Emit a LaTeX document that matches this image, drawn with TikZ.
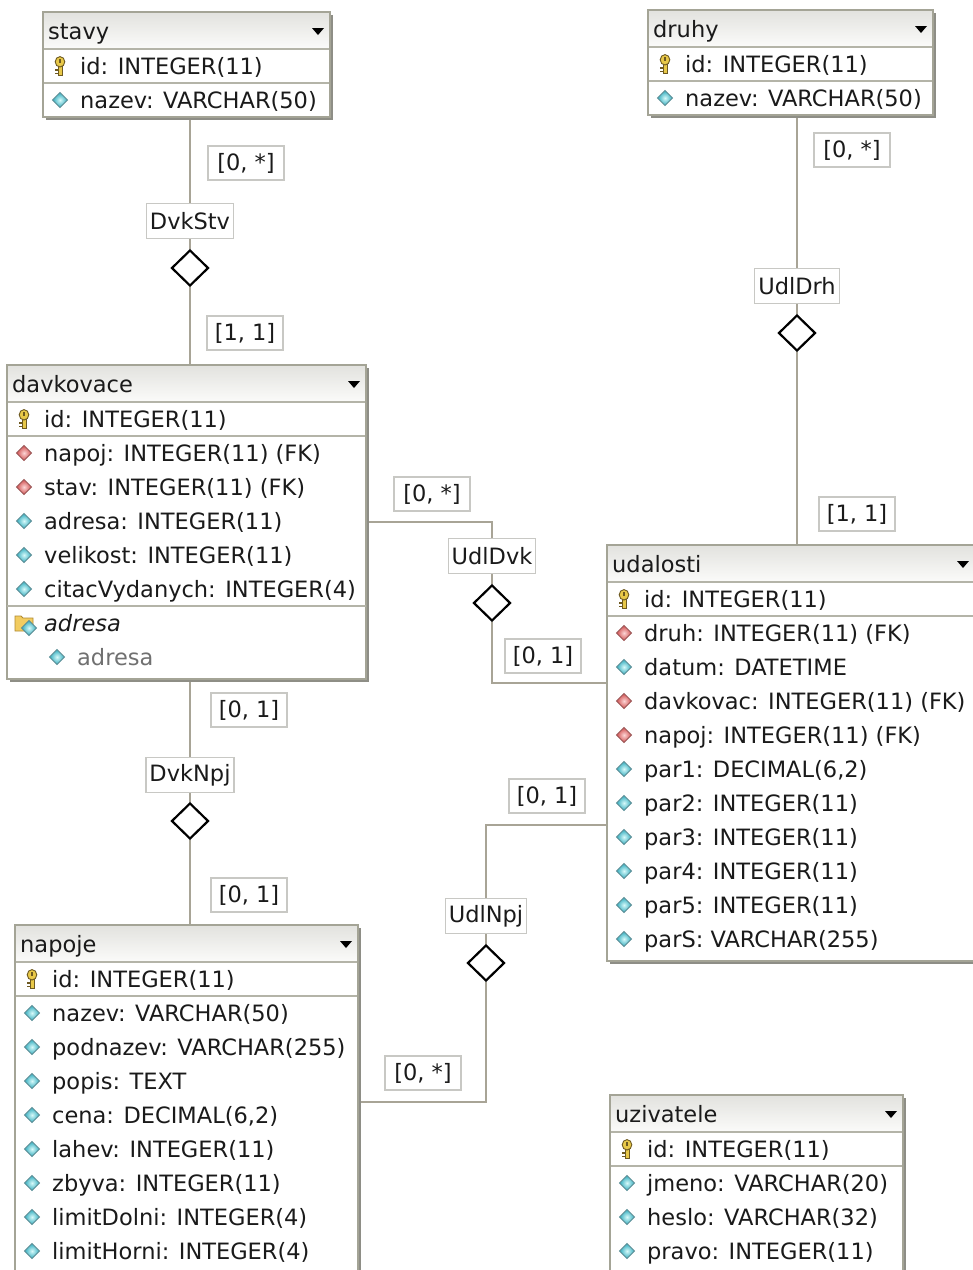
\documentclass[tikz,border=0pt]{standalone}
\usepackage{fontspec}
\setmainfont{DejaVu Sans}
\usetikzlibrary{shapes.geometric,calc}

\definecolor{framec}{HTML}{A4A496}
\definecolor{shadowc}{HTML}{8E8E86}
\definecolor{sepc}{HTML}{B4B4A8}
\definecolor{hdrtop}{HTML}{E2E2DE}
\definecolor{hdrbot}{HTML}{FBFBFA}
\definecolor{txtc}{HTML}{1A1A1A}
\definecolor{subc}{HTML}{707070}
\definecolor{connc}{HTML}{A8A496}
\definecolor{labc}{HTML}{C8C8C4}
\definecolor{keybody}{HTML}{E8C848}
\definecolor{keyol}{HTML}{6E5A22}
\definecolor{attin}{HTML}{D8FAFA}
\definecolor{attout}{HTML}{2EAABC}
\definecolor{attol}{HTML}{5E8E96}
\definecolor{fkin}{HTML}{FCD6D6}
\definecolor{fkout}{HTML}{D04C4C}
\definecolor{fkol}{HTML}{9A5858}
\definecolor{foldc}{HTML}{F2CC60}
\definecolor{foldol}{HTML}{B08A30}

\pgfdeclarelayer{back}
\pgfsetlayers{back,main}

\tikzset{
  every node/.style={font=\fontsize{22.5}{27}\selectfont, text=txtc},
  erframe/.style={rectangle, fill=white, inner sep=0, outer sep=0},
  sepline/.style={draw=sepc, line width=1.2},
  rowtxt/.style={anchor=base west, inner sep=0},
  subtxt/.style={rowtxt, text=subc},
  conn/.style={draw=connc, line width=1.8},
  card/.style={draw=labc, line width=1.3, fill=white, inner sep=0,
    minimum width=76, minimum height=34},
  relname/.style={draw=labc, line width=1.3, fill=white, inner xsep=3.5,
    inner ysep=0, minimum height=35},
  reldia/.style={diamond, draw=black, line width=2.2, fill=white,
    minimum width=37, minimum height=36, inner sep=0},
}

% small diamond glyph of a column: x, y, inner, outer, outline
\newcommand\erDia[5]{%
  \shade[inner color=#3, outer color=#4]
    (#1,#2-7.5) -- (#1+7.5,#2) -- (#1,#2+7.5) -- (#1-7.5,#2) -- cycle;
  \draw[#5, line width=0.8]
    (#1,#2-7.5) -- (#1+7.5,#2) -- (#1,#2+7.5) -- (#1-7.5,#2) -- cycle;}
\newcommand\erIconattr[2]{\erDia{#1}{#2}{attin}{attout}{attol}}
\newcommand\erIconfk[2]{\erDia{#1}{#2}{fkin}{fkout}{fkol}}
% primary key glyph
\newcommand\erIconkey[2]{%
  \begin{scope}[shift={(#1,#2)}]
    \filldraw[fill=keybody, draw=keyol, line width=0.9]
      (-2,0) rectangle (2,9.5);
    \fill[keyol] (-4.6,3.2) rectangle (-2,5);
    \fill[keyol] (-4.6,6.6) rectangle (-2,8.4);
    \filldraw[fill=keybody, draw=keyol, line width=0.9]
      (0,-4.2) ellipse [x radius=4.8pt, y radius=5.2pt];
    \fill[keyol] (-0.8,-7.4) rectangle (0.8,-2.6);
  \end{scope}}
% index folder glyph
\newcommand\erIconfolder[2]{%
  \begin{scope}[shift={(#1,#2)}]
    \filldraw[fill=foldc, draw=foldol, line width=0.8]
      (-9,-7) -- (-3,-7) -- (-1,-5) -- (9,-5) -- (9,8) -- (-9,8) -- cycle;
    \erDia{5}{5}{attin}{attout}{attol}
  \end{scope}}

% table: name, left, top, right, bottom, title
\newcommand\erEntity[6]{%
  \fill[shadowc] (#2+3,#3+3) rectangle (#4+3,#5+3);
  \node[erframe, anchor=north west, minimum width={#4-#2},
    minimum height={#5-#3}] (#1) at (#2,#3) {};
  \shade[top color=hdrtop, bottom color=hdrbot] (#2,#3) rectangle (#4,#3+37);
  \draw[sepline] (#2,#3+37) -- (#4,#3+37);
  \draw[sepline] (#2,#3+71) -- (#4,#3+71);
  \draw[draw=framec, line width=1.4] (#1.north west) rectangle (#1.south east);
  \node[rowtxt] (#1-title) at (#2+5,#3+27) {#6};
  \fill[black] (#4-18,#3+16) -- (#4-6,#3+16) -- (#4-12,#3+23) -- cycle;}

% column row: name, glyph, table left, row centre, text
\newcommand\erRow[5]{%
  \csname erIcon#2\endcsname{#3+17}{#4}%
  \node[rowtxt] (#1) at (#3+37,#4+8) {#5};}

\begin{document}
\begin{tikzpicture}[x=1pt,y=-1pt]
\useasboundingbox (0,0) rectangle (973,1270);
\begin{pgfonlayer}{back}
  \fill[white] (0,0) rectangle (973,1270);
\end{pgfonlayer}

% ---------- tables ----------
\erEntity{stavy}{43}{12}{330}{117}{stavy}
\erRow{stavy-id}{key}{43}{66}{id: INTEGER(11)}
\erRow{stavy-nazev}{attr}{43}{100}{nazev: VARCHAR(50)}

\erEntity{druhy}{648}{10}{933}{115}{druhy}
\erRow{druhy-id}{key}{648}{64}{id: INTEGER(11)}
\erRow{druhy-nazev}{attr}{648}{98}{nazev: VARCHAR(50)}

\erEntity{davkovace}{7}{365}{366}{679}{davkovace}
\erRow{dv-id}{key}{7}{419}{id: INTEGER(11)}
\erRow{dv-napoj}{fk}{7}{453}{napoj: INTEGER(11) (FK)}
\erRow{dv-stav}{fk}{7}{487}{stav: INTEGER(11) (FK)}
\erRow{dv-adresa}{attr}{7}{521}{adresa: INTEGER(11)}
\erRow{dv-velikost}{attr}{7}{555}{velikost: INTEGER(11)}
\erRow{dv-citac}{attr}{7}{589}{citacVydanych: INTEGER(4)}
\draw[sepline] (7,606) -- (366,606);
\erIconfolder{24}{623}
\node[rowtxt] (dv-index) at (44,631) {\itshape adresa};
\erIconattr{57}{657}
\node[subtxt] (dv-index-col) at (77,665) {adresa};

\erEntity{udalosti}{607}{545}{975}{961}{udalosti}
\erRow{ud-id}{key}{607}{599}{id: INTEGER(11)}
\erRow{ud-druh}{fk}{607}{633}{druh: INTEGER(11) (FK)}
\erRow{ud-datum}{attr}{607}{667}{datum: DATETIME}
\erRow{ud-davkovac}{fk}{607}{701}{davkovac: INTEGER(11) (FK)}
\erRow{ud-napoj}{fk}{607}{735}{napoj: INTEGER(11) (FK)}
\erRow{ud-par1}{attr}{607}{769}{par1: DECIMAL(6,2)}
\erRow{ud-par2}{attr}{607}{803}{par2: INTEGER(11)}
\erRow{ud-par3}{attr}{607}{837}{par3: INTEGER(11)}
\erRow{ud-par4}{attr}{607}{871}{par4: INTEGER(11)}
\erRow{ud-par5}{attr}{607}{905}{par5: INTEGER(11)}
\erRow{ud-parS}{attr}{607}{939}{parS: VARCHAR(255)}

\erEntity{napoje}{15}{925}{358}{1300}{napoje}
\erRow{np-id}{key}{15}{979}{id: INTEGER(11)}
\erRow{np-nazev}{attr}{15}{1013}{nazev: VARCHAR(50)}
\erRow{np-podnazev}{attr}{15}{1047}{podnazev: VARCHAR(255)}
\erRow{np-popis}{attr}{15}{1081}{popis: TEXT}
\erRow{np-cena}{attr}{15}{1115}{cena: DECIMAL(6,2)}
\erRow{np-lahev}{attr}{15}{1149}{lahev: INTEGER(11)}
\erRow{np-zbyva}{attr}{15}{1183}{zbyva: INTEGER(11)}
\erRow{np-limitDolni}{attr}{15}{1217}{limitDolni: INTEGER(4)}
\erRow{np-limitHorni}{attr}{15}{1251}{limitHorni: INTEGER(4)}

\erEntity{uzivatele}{610}{1095}{903}{1300}{uzivatele}
\erRow{uz-id}{key}{610}{1149}{id: INTEGER(11)}
\erRow{uz-jmeno}{attr}{610}{1183}{jmeno: VARCHAR(20)}
\erRow{uz-heslo}{attr}{610}{1217}{heslo: VARCHAR(32)}
\erRow{uz-pravo}{attr}{610}{1251}{pravo: INTEGER(11)}

% ---------- relationships ----------
% DvkStv
\node[card] (ds-top) at (246,163) {[0, *]};
\node[relname] (ds-name) at (190,221) {DvkStv};
\node[reldia] (ds-dia) at (190,268) {};
\node[card] (ds-bot) at (245,333) {[1, 1]};

% UdlDrh
\node[card] (dr-top) at (852,150) {[0, *]};
\node[relname] (dr-name) at (797,286) {UdlDrh};
\node[reldia] (dr-dia) at (797,333) {};
\node[card] (dr-bot) at (857,514) {[1, 1]};

% UdlDvk
\coordinate (dk-a) at (492,522);
\coordinate (dk-b) at (492,683);
\node[card] (dk-top) at (432,494) {[0, *]};
\node[relname] (dk-name) at (492,556) {UdlDvk};
\node[reldia] (dk-dia) at (492,603) {};
\node[card] (dk-bot) at (543,656) {[0, 1]};

% DvkNpj
\node[card] (dn-top) at (249,710) {[0, 1]};
\node[relname] (dn-name) at (190,775) {DvkNpj};
\node[reldia] (dn-dia) at (190,821) {};
\node[card] (dn-bot) at (249,895) {[0, 1]};

% UdlNpj
\coordinate (un-a) at (486,825);
\coordinate (un-b) at (486,1102);
\node[card] (un-top) at (547,796) {[0, 1]};
\node[relname] (un-name) at (486,916) {UdlNpj};
\node[reldia] (un-dia) at (486,963) {};
\node[card] (un-bot) at (423,1073) {[0, *]};

\begin{pgfonlayer}{back}
  \draw[conn] (stavy.south -| ds-dia.center) -- (ds-dia.north);
  \draw[conn] (ds-dia.south) -- (davkovace.north -| ds-dia.center);
  \draw[conn] (druhy.south -| dr-dia.center) -- (dr-dia.north);
  \draw[conn] (dr-dia.south) -- (udalosti.north -| dr-dia.center);
  \draw[conn] (davkovace.east |- dk-a) -- (dk-a) -- (dk-dia.north);
  \draw[conn] (dk-dia.south) -- (dk-b) -- (udalosti.west |- dk-b);
  \draw[conn] (davkovace.south -| dn-dia.center) -- (dn-dia.north);
  \draw[conn] (dn-dia.south) -- (napoje.north -| dn-dia.center);
  \draw[conn] (udalosti.west |- un-a) -- (un-a) -- (un-dia.north);
  \draw[conn] (un-dia.south) -- (un-b) -- (napoje.east |- un-b);
\end{pgfonlayer}
\end{tikzpicture}
\end{document}
